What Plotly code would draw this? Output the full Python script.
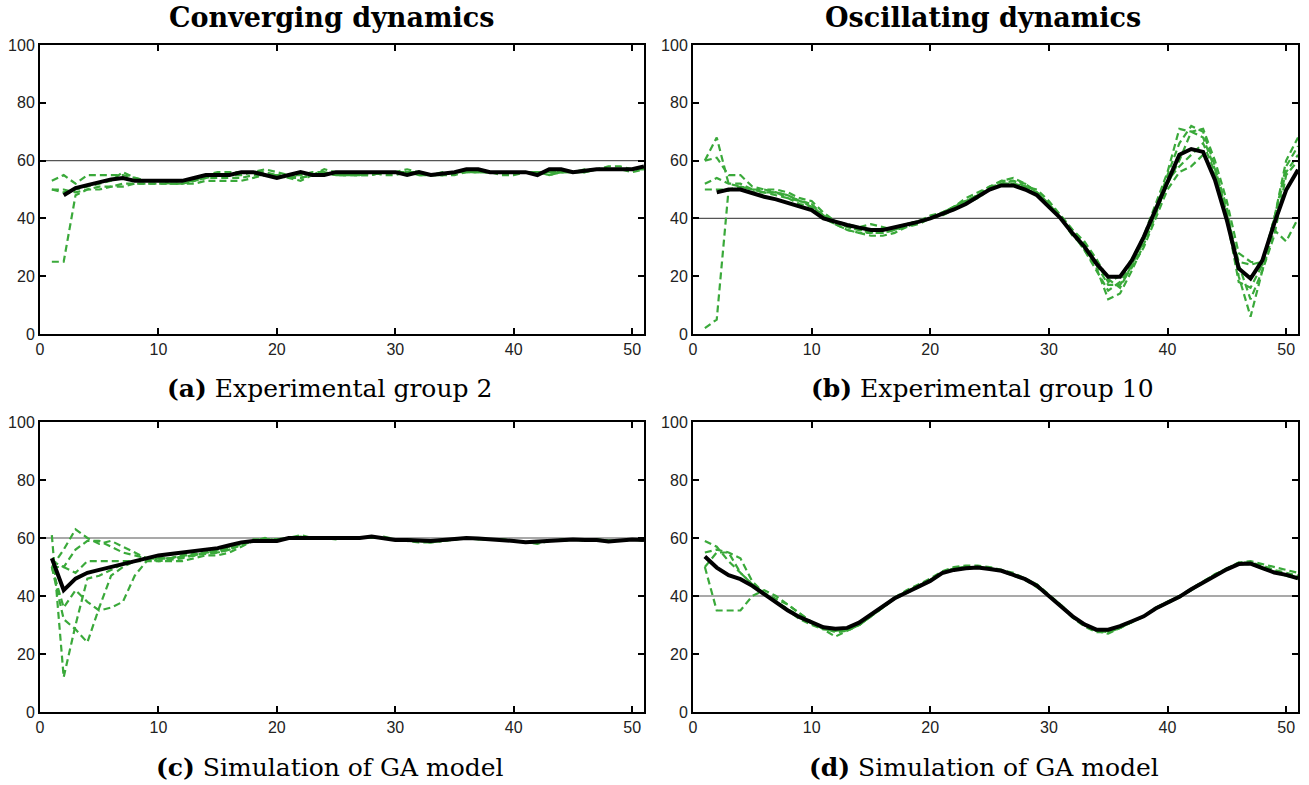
import plotly.graph_objects as go

# ---------------- data ----------------
x_ticks = [0, 10, 20, 30, 40, 50]
y_ticks = [0, 20, 40, 60, 80, 100]
ref_levels = {"a": 60, "b": 40, "c": 60, "d": 40}

# Panel (a) Experimental group 2: black mean starts at period 2
black_a = [48, 50.5, 51.5, 52.5, 53.5, 54, 53, 53, 53, 53,
           53, 54, 55, 55, 55, 56, 56, 55, 54, 55,
           56, 55, 55, 56, 56, 56, 56, 56, 56, 55,
           56, 55, 55.5, 56, 57, 57, 56, 56, 56, 56,
           55, 57, 57, 56, 56.5, 57, 57, 57, 57, 58]
green_a = [
    [25, 25, 48, 50, 51, 51, 52, 52, 52, 52, 52, 52, 53, 54, 55, 55, 55, 56, 56, 55,
     54, 54, 55, 56, 55, 55, 55, 56, 56, 56, 56, 55, 55, 55, 56, 56, 56, 56, 56, 56,
     56, 56, 55, 56, 56, 56, 57, 57, 57, 57, 57],
    [53, 55, 52, 55, 55, 55, 55, 54, 53, 53, 52, 52, 52, 53, 53, 53, 53, 54, 55, 55,
     55, 55, 56, 56, 55, 55, 55, 55, 56, 56, 57, 56, 55, 56, 56, 56, 56, 56, 55, 55,
     56, 56, 56, 56, 56, 57, 57, 57, 57, 56, 57],
    [50, 50, 49, 50, 50, 51, 51, 52, 52, 52, 52, 52, 53, 55, 56, 56, 56, 56, 57, 56,
     55, 54, 55, 57, 56, 56, 56, 56, 55, 55, 56, 56, 55, 55, 55, 56, 56, 56, 56, 56,
     56, 56, 56, 56, 56, 56, 57, 58, 58, 57, 57],
    [50, 49, 50, 51, 52, 53, 56, 54, 53, 53, 53, 53, 53, 54, 54, 54, 54, 55, 55, 55,
     54, 53, 55, 56, 55, 55, 55, 55, 56, 56, 56, 55, 55, 55, 56, 57, 56, 56, 56, 56,
     56, 56, 55, 56, 56, 56, 57, 57, 57, 57, 58],
]

# Panel (b) Experimental group 10
black_b = [49, 50, 50, 48.7, 47.5, 46.6, 45.4, 44, 42.9, 40,
           38.8, 37.7, 36.8, 36, 36, 36.9, 38, 38.8, 40, 41.4,
           43.1, 45, 47.5, 50, 51.4, 51.4, 50, 48, 44, 40,
           34.8, 30.2, 24.4, 19.8, 19.8, 25.5, 33.6, 42.9, 52, 62,
           64, 63, 53.3, 39.4, 22.7, 19.2, 25.5, 38.3, 49.8, 56.8]
green_b = [
    [60, 68, 52, 51, 50, 50, 49, 48, 46, 44, 41, 39, 37, 36, 35, 35, 36, 38, 39, 40,
     42, 44, 47, 49, 51, 53, 54, 52, 49, 45, 40, 35, 29, 22, 15, 18, 24, 32, 43, 55,
     66, 72, 70, 58, 42, 25, 24, 25, 40, 56, 62],
    [60, 61, 55, 55, 51, 50, 50, 49, 47, 46, 42, 39, 37, 36, 36, 35, 36, 37, 39, 40,
     42, 44, 46, 48, 51, 52, 53, 52, 49, 45, 41, 36, 31, 25, 18, 20, 26, 34, 45, 56,
     71, 70, 71, 60, 46, 28, 25, 24, 40, 60, 68],
    [52, 54, 52, 52, 50, 49, 49, 47, 45, 44, 41, 38, 36, 35, 35, 36, 37, 38, 39, 41,
     42, 44, 46, 48, 50, 52, 52, 51, 48, 44, 40, 34, 30, 24, 17, 17, 23, 30, 40, 50,
     56, 58, 62, 55, 42, 24, 12, 22, 36, 32, 40],
    [50, 50, 50, 50, 49, 49, 48, 47, 46, 45, 40, 38, 36, 35, 34, 34, 35, 37, 38, 40,
     41, 43, 45, 47, 50, 53, 53, 51, 50, 46, 41, 36, 32, 26, 19, 16, 24, 33, 42, 52,
     60, 70, 68, 57, 44, 20, 6, 22, 34, 55, 60],
    [2, 5, 50, 51, 50, 49, 49, 48, 46, 45, 41, 39, 38, 37, 38, 37, 36, 38, 39, 40,
     42, 44, 46, 48, 50, 52, 52, 51, 49, 45, 40, 35, 29, 23, 12, 14, 22, 31, 41, 53,
     58, 62, 66, 56, 40, 18, 16, 24, 40, 58, 65],
]

# Panel (c) Simulation of GA model (converging)
black_c = [53, 42, 46, 48, 49, 50, 51, 52, 53, 54,
           54.5, 55, 55.5, 56, 56.5, 57.5, 58.5, 59, 59, 59,
           60, 60, 59.8, 59.8, 59.8, 60, 60, 60.5, 60, 59.3,
           59.3, 59, 59, 59.3, 59.6, 60, 59.8, 59.6, 59.5, 59,
           58.5, 58.8, 59, 59.2, 59.5, 59.3, 59.3, 58.8, 59.2, 59.5,
           59.3]
green_c = [
    [61, 12, 30, 46, 47, 49, 51, 52, 53, 53, 53, 54, 54, 55, 55, 56, 58, 59, 59, 59,
     60, 60, 60, 60, 60, 60, 60, 60, 60, 59.5, 59.5, 59, 59, 59, 59.5, 60, 60, 59.5, 59.5, 59,
     58.5, 58.5, 59, 59, 59.5, 59.5, 59.5, 59, 59, 59.5, 59.5],
    [50, 56, 63, 60, 58, 59, 57, 55, 53, 52, 52, 52, 53, 54, 54, 55, 57, 59, 60, 59,
     60, 61, 60, 60, 60, 60, 60, 60, 60, 59.5, 59, 58.5, 58.5, 59, 59.5, 60, 59.5, 59.5, 59.5, 59,
     58.5, 58, 59, 59, 59.5, 59, 59, 59, 59, 59.5, 59.5],
    [50, 50, 48, 52, 52, 52, 52, 52, 52, 52, 52.5, 53, 54, 54.5, 55, 56, 57.5, 59, 59, 59.5,
     60, 60, 60, 60, 60, 60, 60, 60.5, 60, 59.5, 59.5, 59, 58.5, 59, 59.5, 60, 60, 59.5, 59.5, 59,
     58.5, 58.5, 59, 59.5, 59.5, 59.5, 59.5, 59, 59, 59.5, 59.5],
    [50, 36, 42, 38, 35, 36, 38, 47, 52, 53, 53, 53.5, 54, 55, 55.5, 56.5, 58, 59, 59.5, 59.5,
     60, 60.5, 60, 60, 60, 60, 60, 60, 60.5, 59.5, 59, 59, 59, 59.5, 59.5, 60, 60, 59.5, 59.5, 59,
     58.5, 58.5, 59, 59, 59.5, 59.5, 59, 59, 59, 59.5, 59],
    [50, 32, 28.5, 24, 36, 47, 50, 52, 53, 53, 53, 54, 54.5, 55, 56, 57, 58, 59, 59, 59.5,
     60, 60, 60, 60, 60, 60, 60, 60, 60, 59.5, 59.5, 59, 59, 59, 59.5, 60, 60, 59.5, 59.5, 59,
     58.5, 58.5, 59, 59, 59.5, 59.5, 59.5, 59, 59, 59.5, 59.5],
    [52, 50, 56, 59, 59, 57, 55, 54, 53, 53, 53, 53.5, 54, 55, 55.5, 56.5, 58, 59.5, 59.5, 59.5,
     60, 60, 60, 60, 59.5, 60, 60, 60.5, 60, 59.5, 59, 59, 58.5, 59, 59.5, 60, 59.5, 59.5, 59.5, 59,
     58.5, 58.5, 59, 59, 59.5, 59.5, 59.5, 59, 59, 59.5, 59.5],
]

# Panel (d) Simulation of GA model (oscillating)
black_d = [53.6, 49.8, 47.2, 45.8, 43.5, 40.6, 37.7, 35, 32.7, 30.8,
           29.2, 28.7, 29, 30.8, 33.6, 36.2, 39.2, 41.2, 43.1, 45.2,
           47.9, 49, 49.6, 49.8, 49.3, 48.7, 47.3, 45.8, 43.5, 40,
           36.8, 33, 30.2, 28.4, 28.4, 29.6, 31.3, 33, 35.7, 37.7,
           39.7, 42.3, 44.6, 46.9, 49.2, 51, 51.2, 49.6, 48.1, 47.3,
           46.1]
green_d = [
    [59, 57, 52, 48, 44, 41, 39, 37, 34, 31, 29, 27.5, 28, 30, 33, 36, 39.5, 42, 44, 46,
     48.5, 50, 50.5, 50.5, 50, 49, 48, 46, 44, 40, 36.5, 32.5, 29.5, 27.5, 27.5, 29, 31, 33, 36, 38,
     40, 42.5, 45, 47.5, 49.5, 51.5, 51.5, 50.5, 49, 48, 47],
    [55, 56, 55, 53, 45, 41, 38, 35.5, 33, 30.5, 29, 28, 28.5, 30, 33, 36, 39, 41, 43, 45,
     48, 49.5, 50, 50, 49.5, 49, 47.5, 46, 43.5, 40, 37, 33, 30, 28, 27.5, 29, 31, 33, 35.5, 37.5,
     39.5, 42, 44.5, 47, 49.5, 51.5, 52, 51, 50, 49, 48],
    [50, 35, 35, 35, 40, 42, 40, 37, 34, 31, 28.5, 26, 28, 30, 33, 36, 39, 41.5, 43.5, 45.5,
     48, 49.5, 50, 50, 49.5, 48.5, 47, 45.5, 43, 40, 37, 33, 30, 28, 27, 29, 31, 33, 35.5, 37.5,
     39.5, 42, 44.5, 47, 49.5, 51, 51.5, 50, 48.5, 47.5, 46.5],
    [50, 55, 55, 48, 44, 41, 38, 35, 32, 30, 28.5, 28, 28.5, 30, 33, 36.5, 39.5, 41.5, 43.5, 45.5,
     48, 49.5, 50, 50, 49.5, 48.5, 47.5, 46, 44, 40.5, 37, 33, 30, 28, 28, 29.5, 31, 33, 36, 38,
     40, 42.5, 45, 47.5, 49.5, 51, 51, 49.5, 48, 47, 46],
]

col_titles = ["<b>Converging dynamics</b>", "<b>Oscillating dynamics</b>"]
captions = ["<b>(a)</b> Experimental group 2", "<b>(b)</b> Experimental group 10",
            "<b>(c)</b> Simulation of GA model", "<b>(d)</b> Simulation of GA model"]

# ---------------- figure ----------------
W, H = 1309, 785
GREEN = "#3aa93a"

panels = [
    ("a", 1, black_a, 2, green_a),
    ("b", 2, black_b, 2, green_b),
    ("c", 3, black_c, 1, green_c),
    ("d", 4, black_d, 1, green_d),
]

fig = go.Figure()
for key, n, blk, start, greens in panels:
    xa = "x" if n == 1 else f"x{n}"
    ya = "y" if n == 1 else f"y{n}"
    for g in greens:
        fig.add_trace(go.Scatter(x=list(range(1, len(g) + 1)), y=g, mode="lines",
                                 line=dict(color=GREEN, width=2.2, dash="7px,4px"),
                                 xaxis=xa, yaxis=ya, showlegend=False, hoverinfo="skip"))
    fig.add_trace(go.Scatter(x=list(range(start, start + len(blk))), y=blk, mode="lines",
                             line=dict(color="black", width=4),
                             xaxis=xa, yaxis=ya, showlegend=False))
    fig.add_shape(type="line", xref=xa, yref=ya, x0=0, x1=51,
                  y0=ref_levels[key], y1=ref_levels[key],
                  line=dict(color="#555555", width=1.2), layer="below")

xdom_left = [40 / W, 644 / W]
xdom_right = [693 / W, 1298 / W]
ydom_top = [1 - 334 / H, 1 - 45 / H]
ydom_bot = [1 - 712 / H, 1 - 422 / H]

tickfont = dict(family="Liberation Sans, Arial, sans-serif", size=16, color="#222222")
common = dict(ticks="inside", ticklen=6, tickwidth=1.5, tickcolor="black",
              showline=True, linecolor="black", linewidth=2, mirror="ticks",
              showgrid=False, zeroline=False, tickfont=tickfont, fixedrange=True,
              automargin=False)

layout_axes = {}
doms = [(xdom_left, ydom_top), (xdom_right, ydom_top), (xdom_left, ydom_bot), (xdom_right, ydom_bot)]
for i, (xd, yd) in enumerate(doms, start=1):
    sx = "" if i == 1 else str(i)
    layout_axes[f"xaxis{sx}"] = dict(domain=xd, range=[0, 51], tickvals=x_ticks,
                                     anchor=f"y{sx}", **common)
    layout_axes[f"yaxis{sx}"] = dict(domain=yd, range=[0, 100], tickvals=y_ticks,
                                     anchor=f"x{sx}", **common)

fig.update_layout(width=W, height=H, margin=dict(l=0, r=0, t=0, b=0, autoexpand=False),
                  paper_bgcolor="white", plot_bgcolor="white", **layout_axes)

serif = "DejaVu Serif, Liberation Serif, serif"
title_x = [331 / W, 983 / W]
for t, xx in zip(col_titles, title_x):
    fig.add_annotation(text=t, x=xx, y=1 - 18 / H, xref="paper", yref="paper",
                       showarrow=False, xanchor="center", yanchor="middle",
                       font=dict(family=serif, size=27, color="black"))
cap_pos = [(329, 388), (983, 388), (330, 767), (984, 767)]
for c, (px, py) in zip(captions, cap_pos):
    fig.add_annotation(text=c, x=px / W, y=1 - py / H, xref="paper", yref="paper",
                       showarrow=False, xanchor="center", yanchor="middle",
                       font=dict(family=serif, size=25, color="black"))

fig.write_html("out.html")
